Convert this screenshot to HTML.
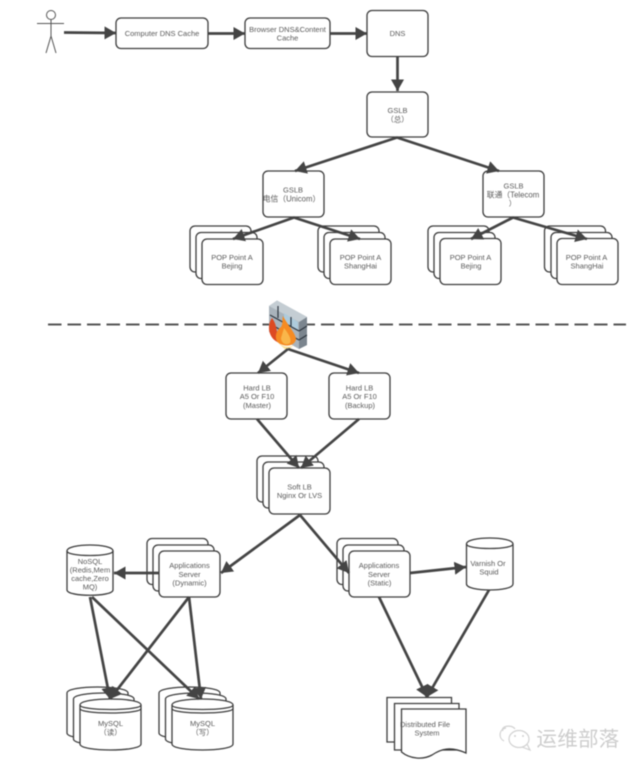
<!DOCTYPE html>
<html><head><meta charset="utf-8"><style>
html,body{margin:0;padding:0;background:#fff}
svg{display:block;filter:blur(.45px)}
text{font-family:"Liberation Sans","Noto Sans CJK SC",sans-serif;font-size:7.5px;fill:#5a5a5a;text-anchor:middle}
.b{fill:#fff;stroke:#3c3c3c;stroke-width:1.3}
.l{stroke:#444;stroke-width:2.7;fill:none}
</style></head><body>
<svg width="640" height="771" viewBox="0 0 640 771" xmlns="http://www.w3.org/2000/svg">
<defs>
<marker id="h" markerUnits="userSpaceOnUse" markerWidth="13" markerHeight="14" refX="11.500" refY="6.500" orient="auto"><path d="M0 0L11.500 6.500L0 13Z" fill="#444"/></marker>
</defs>
<!-- actor -->
<g fill="none" stroke="#555" stroke-width="1">
<circle cx="51" cy="15" r="4.500"/><path d="M37 23.500H64M51 19.500V36L46 53M51 36L56 53"/>
</g>
<!-- top boxes -->
<rect class="b" x="116" y="18" width="92" height="30.500" rx="5"/>
<rect class="b" x="245" y="18" width="85" height="30.500" rx="5"/>
<rect class="b" x="367" y="10.500" width="61" height="46" rx="5"/>
<rect class="b" x="367" y="92" width="61" height="45" rx="5"/>
<rect class="b" x="263" y="171" width="61" height="46" rx="5"/>
<rect class="b" x="483" y="171" width="61" height="46" rx="5"/>
<!-- POP stacks -->
<rect class="b" x="190" y="226" width="61" height="46" rx="5"/><rect class="b" x="196" y="232.500" width="61" height="46" rx="5"/><rect class="b" x="202" y="239" width="61" height="45.500" rx="5"/>
<rect class="b" x="318" y="226" width="61" height="46" rx="5"/><rect class="b" x="324" y="232.500" width="61" height="46" rx="5"/><rect class="b" x="330" y="239" width="61" height="45.500" rx="5"/>
<rect class="b" x="428" y="226" width="61" height="46" rx="5"/><rect class="b" x="434" y="232.500" width="61" height="46" rx="5"/><rect class="b" x="440" y="238.500" width="61" height="46" rx="5"/>
<rect class="b" x="544.500" y="226" width="61" height="46" rx="5"/><rect class="b" x="551" y="232.500" width="61" height="46" rx="5"/><rect class="b" x="557" y="238.500" width="61" height="46" rx="5"/>
<!-- top arrows -->
<g class="l">
<path d="M64 32.500L116 33" marker-end="url(#h)"/><path d="M208 33.500H245" marker-end="url(#h)"/><path d="M330 33.500H367" marker-end="url(#h)"/><path d="M397.500 57V91" marker-end="url(#h)"/>
<path d="M397 137.500L295 171" marker-end="url(#h)"/><path d="M397 137.500L499 171" marker-end="url(#h)"/>
<path d="M294 217.500L233 239" marker-end="url(#h)"/><path d="M294 217.500L360 239" marker-end="url(#h)"/>
<path d="M513 217.500L471 239" marker-end="url(#h)"/><path d="M513 217.500L587 239" marker-end="url(#h)"/>
</g>
<!-- dashed -->
<path d="M48 324.500H626" stroke="#555" stroke-width="2" stroke-dasharray="13.500 6" fill="none"/>
<!-- firewall -->
<g>
<polygon points="269,306 277,300.500 307,317 307,345 299,349 269,332" fill="#a9b3bb"/>
<polygon points="299,322 307,317 307,345 299,349" fill="#7b858e"/>
<polygon points="269,306 277,300.500 307,317 299,322" fill="#c4cdd3"/>
<polygon points="284,313 298,322 298,331 284,322" fill="#aecbdc"/>
<path d="M270 315L299 331M270 324L299 340M299 331L307 326M299 340L307 335M278 306V318M291 317V326M284 322V331" stroke="#2f3740" stroke-width="1.200" fill="none"/>
<path d="M272 318C266 326 269 340 280 343C276 334 278 326 272 318Z" fill="#dd4a22"/>
<path d="M283 316C287 324 296 334 296 339C295 346 286 347 280 344C273 340 276 330 281 327C283 324 282 320 283 316Z" fill="#f58b23"/>
<path d="M284 328C288 333 292 339 290 343C286 346 281 343 281 338Z" fill="#f9b64a"/>
<path d="M278 343C283 347 290 348 294 345L287 351Z" fill="#fbe29a"/>
</g>
<!-- LB -->
<rect class="b" x="226" y="373" width="61" height="46" rx="5"/>
<rect class="b" x="329" y="373" width="61" height="46" rx="5"/>
<rect class="b" x="257" y="456" width="61" height="46" rx="5"/><rect class="b" x="263" y="462" width="61" height="46" rx="5"/><rect class="b" x="269" y="468" width="61" height="46" rx="5"/>
<!-- app -->
<rect class="b" x="147" y="538.500" width="61" height="46" rx="5"/><rect class="b" x="153" y="545" width="61" height="46" rx="5"/><rect class="b" x="159" y="551" width="61" height="46" rx="5"/>
<rect class="b" x="337" y="538.500" width="61" height="46" rx="5"/><rect class="b" x="343" y="545" width="61" height="46" rx="5"/><rect class="b" x="349" y="551" width="61" height="46" rx="5"/>
<!-- NoSQL -->
<path class="b" d="M67 551C67 543 113 543 113 551V590C113 597 67 597 67 590Z"/><path class="b" style="fill:none" d="M67 551C67 557 113 557 113 551"/>
<!-- Varnish -->
<path class="b" d="M466.500 544C466.500 536 513 536 513 544V584C513 592 466.500 592 466.500 584Z"/><path d="M466.500 544C466.500 550 513 550 513 544" class="b" style="fill:none"/>
<!-- MySQL stacks -->
<path class="b" d="M67 693C67 685 128 685 128 693V733C128 741 67 741 67 733Z"/>
<path class="b" d="M73.500 699C73.500 691 134 691 134 699V739C134 747 73.500 747 73.500 739Z"/>
<path class="b" d="M80 705C80 697 141 697 141 705V744C141 752 80 752 80 744Z"/>
<path class="b" style="fill:none" d="M80 705C80 711 141 711 141 705M80 708.500C80 714.500 141 714.500 141 708.500"/>
<g transform="translate(92,0)">
<path class="b" d="M67 693C67 685 128 685 128 693V733C128 741 67 741 67 733Z"/>
<path class="b" d="M73.500 699C73.500 691 134 691 134 699V739C134 747 73.500 747 73.500 739Z"/>
<path class="b" d="M80 705C80 697 141 697 141 705V744C141 752 80 752 80 744Z"/>
<path class="b" style="fill:none" d="M80 705C80 711 141 711 141 705M80 708.500C80 714.500 141 714.500 141 708.500"/>
</g>
<!-- doc -->
<path class="b" d="M387 697.500H451.500V742H387Z"/>
<path class="b" d="M394.500 703.500H459V750H394.500Z"/>
<path class="b" d="M401.500 709H466V753C450 746 441 749 432 755C423 760 410 759 401.500 752Z"/>
<!-- lower arrows -->
<g class="l">
<path d="M288 349L258 373" marker-end="url(#h)"/><path d="M288 349L359 373" marker-end="url(#h)"/>
<path d="M257 419L299 468" marker-end="url(#h)"/><path d="M359 419L301 468" marker-end="url(#h)"/>
<path d="M300 515L221 573" marker-end="url(#h)"/><path d="M300 515L349 573" marker-end="url(#h)"/>
<path d="M159 573H114" marker-end="url(#h)"/><path d="M410 573L466 567" marker-end="url(#h)"/>
<path d="M90 597L110 699" marker-end="url(#h)"/><path d="M92 597L199 699" marker-end="url(#h)"/>
<path d="M189 597L110 699" marker-end="url(#h)"/><path d="M189 597L201 699" marker-end="url(#h)"/>
<path d="M379 597L427 697" marker-end="url(#h)"/><path d="M489 590L427 697" marker-end="url(#h)"/>
</g>
<!-- labels -->
<text x="162" y="36">Computer DNS Cache</text>
<text x="287.500" y="32">Browser DNS&amp;Content</text><text x="287.500" y="40.500">Cache</text>
<text x="397.500" y="36">DNS</text>
<text x="397.500" y="113">GSLB</text><text x="397.500" y="122">（总）</text>
<text x="293" y="192.500">GSLB</text><text x="291.500" y="201.500" style="font-size:7.800px">电信（Unicom）</text>
<text x="513.500" y="188.500">GSLB</text><text x="513" y="197.500" style="font-size:7.800px">联通（Telecom</text><text x="512.500" y="206">）</text>
<text x="232" y="260">POP Point A</text><text x="232" y="268.500">Bejing</text>
<text x="360.500" y="260">POP Point A</text><text x="360.500" y="268.500">ShangHai</text>
<text x="470.500" y="260">POP Point A</text><text x="471" y="268.500">Bejing</text>
<text x="586.500" y="260">POP Point A</text><text x="587" y="268.500">ShangHai</text>
<text x="257" y="390.500">Hard LB</text><text x="257" y="399">A5 Or F10</text><text x="257" y="408">(Master)</text>
<text x="359.500" y="390.500">Hard LB</text><text x="359.500" y="399">A5 Or F10</text><text x="360" y="408">(Backup)</text>
<text x="299.500" y="489.500">Soft LB</text><text x="299.500" y="498">Nginx Or LVS</text>
<text x="189.500" y="568">Applications</text><text x="189.500" y="577">Server</text><text x="189.500" y="585.500">(Dynamic)</text>
<text x="379" y="568">Applications</text><text x="379" y="577">Server</text><text x="379.500" y="585.500">(Static)</text>
<text x="90" y="564">NoSQL</text><text x="90" y="572.500">(Redis,Mem</text><text x="90" y="581">cache,Zero</text><text x="90" y="589.500">MQ)</text>
<text x="488" y="566">Varnish Or</text><text x="489" y="574.500">Squid</text>
<text x="110.500" y="726">MySQL</text><text x="110.500" y="735">（读）</text>
<text x="202.500" y="726">MySQL</text><text x="202.500" y="735">（写）</text>
<text x="425" y="727">Distributed File</text><text x="427" y="735.500">System</text>
<!-- watermark -->
<g fill="none" stroke="#d2d2d2" stroke-width="1.200">
<path d="M506 728C499 729 498 738 504 741"/><path d="M503 731C500 726 512 724 515 729"/>
<ellipse cx="519" cy="739" rx="10" ry="8.500"/><path d="M522 747L530 750L527 744"/>
</g>
<circle cx="515" cy="736" r="1" fill="#d2d2d2"/><circle cx="523" cy="736" r="1" fill="#d2d2d2"/>
<text x="578" y="746" style="font-size:20.500px;fill:#cdcdcd;letter-spacing:.3px">运维部落</text>
</svg>
</body></html>
